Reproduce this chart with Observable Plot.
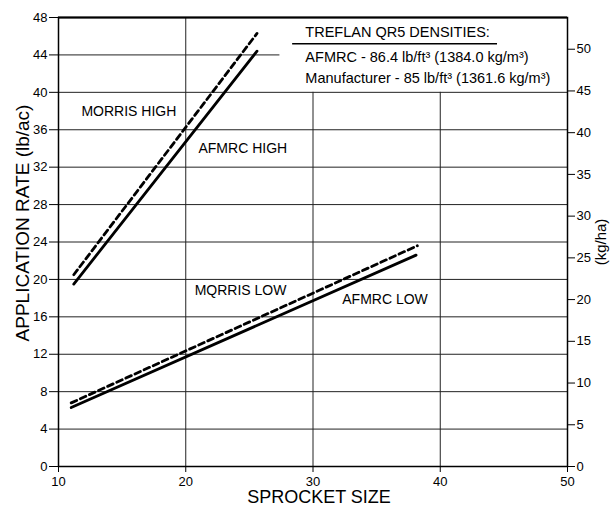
<!DOCTYPE html>
<html>
<head>
<meta charset="utf-8">
<script src="https://cdn.jsdelivr.net/npm/d3@7"></script>
<script src="https://cdn.jsdelivr.net/npm/@observablehq/plot@0.6"></script>
<style>
  html, body { margin: 0; padding: 0; background: #fff; }
</style>
</head>
<body>
<div id="chart"></div>
<script>
// Data
const seriesNames = ["AFMRC HIGH", "MORRIS HIGH", "AFMRC LOW", "MORRIS LOW"];
const sprocket = {
  "AFMRC HIGH": [11.2, 25.6],
  "MORRIS HIGH": [11.2, 25.6],
  "AFMRC LOW": [11.0, 38.1],
  "MORRIS LOW": [11.0, 38.2]
};
const rate = {
  "AFMRC HIGH": [19.5, 44.4],
  "MORRIS HIGH": [20.5, 46.3],
  "AFMRC LOW": [6.3, 22.6],
  "MORRIS LOW": [6.8, 23.6]
};
const dashed = {"AFMRC HIGH": false, "MORRIS HIGH": true, "AFMRC LOW": false, "MORRIS LOW": true};

const xTicks = [10, 20, 30, 40, 50];
const yTicks = [0, 4, 8, 12, 16, 20, 24, 28, 32, 36, 40, 44, 48];
const kgTicks = [0, 5, 10, 15, 20, 25, 30, 35, 40, 45, 50];
const LB_TO_KG = 1.12085;

// Annotation labels (data coordinates)
const curveLabels = [
  {text: "MORRIS HIGH", x: 11.8, y: 37.9},
  {text: "AFMRC HIGH", x: 21.0, y: 34.0},
  {text: "MQRRIS LOW", x: 20.7, y: 18.8},
  {text: "AFMRC LOW", x: 32.3, y: 17.8}
];
const legendLines = [
  {text: "TREFLAN QR5 DENSITIES:", x: 29.4, y: 46.4},
  {text: "AFMRC - 86.4 lb/ft³ (1384.0 kg/m³)", x: 29.4, y: 43.7},
  {text: "Manufacturer - 85 lb/ft³ (1361.6 kg/m³)", x: 29.4, y: 41.5}
];
const legendRule = [{y: 45.2, x1: 28.4, x2: 44.5}];

const lineData = seriesNames.flatMap(s => sprocket[s].map((x, i) => ({series: s, x, y: rate[s][i], dashed: dashed[s]})));

const font = "'Liberation Sans', Arial, Helvetica, sans-serif";

const chart = Plot.plot({
  width: 610,
  height: 510,
  marginLeft: 58,
  marginRight: 43,
  marginTop: 17,
  marginBottom: 44,
  style: {fontFamily: font, fontSize: "12px", color: "#000", background: "#fff"},
  x: {domain: [10, 50]},
  y: {domain: [0, 48]},
  marks: [
    // grid
    Plot.ruleY(yTicks.filter(d => d > 0 && d < 44), {x1: 10, x2: 50, stroke: "#222", strokeWidth: 1}),
    Plot.ruleY([44], {x1: 10, x2: 27.4, stroke: "#222", strokeWidth: 1}),
    Plot.ruleX([20], {y1: 0, y2: 48, stroke: "#222", strokeWidth: 1}),
    Plot.ruleX([30, 40], {y1: 0, y2: 40, stroke: "#222", strokeWidth: 1}),
    // frame
    Plot.frame({stroke: "#000", strokeWidth: 1.5}),
    Plot.ruleY([48], {stroke: "#000", strokeWidth: 2.2}),
    // axes
    Plot.axisX(xTicks, {anchor: "bottom", tickSize: 6, tickPadding: 4, label: null, fontSize: 13, tickFormat: d => String(d)}),
    Plot.axisY(yTicks, {anchor: "left", tickSize: 9, tickPadding: 2, label: null, fontSize: 13, tickFormat: d => String(d)}),
    Plot.axisY(kgTicks.map(k => k / LB_TO_KG), {anchor: "right", tickSize: 7, tickPadding: 2, label: null, fontSize: 13, tickFormat: d => String(Math.round(d * LB_TO_KG))}),
    // curves
    Plot.line(lineData.filter(d => !d.dashed), {x: "x", y: "y", z: "series", stroke: "#000", strokeWidth: 2.8}),
    Plot.line(lineData.filter(d => d.dashed), {x: "x", y: "y", z: "series", stroke: "#000", strokeWidth: 2.8, strokeDasharray: "6,4"}),
    // labels
    Plot.text(curveLabels, {x: "x", y: "y", text: "text", textAnchor: "start", fontSize: 14, fill: "#000"}),
    Plot.text(legendLines, {x: "x", y: "y", text: "text", textAnchor: "start", fontSize: 14.5, fill: "#000"}),
    Plot.ruleY(legendRule, {y: "y", x1: "x1", x2: "x2", stroke: "#000", strokeWidth: 1.5}),
    // axis titles
    Plot.text(["APPLICATION RATE (lb/ac)"], {frameAnchor: "left", textAnchor: "middle", lineAnchor: "middle", rotate: -90, dx: -36, dy: -19, fontSize: 19, fill: "#000"}),
    Plot.text(["(kg/ha)"], {frameAnchor: "right", textAnchor: "middle", lineAnchor: "middle", rotate: -90, dx: 34, dy: 0, fontSize: 15, fill: "#000"}),
    Plot.text(["SPROCKET SIZE"], {frameAnchor: "bottom", textAnchor: "middle", lineAnchor: "middle", dx: 6, dy: 31, fontSize: 18, fill: "#000"})
  ]
});
document.getElementById("chart").appendChild(chart);
</script>
</body>
</html>
